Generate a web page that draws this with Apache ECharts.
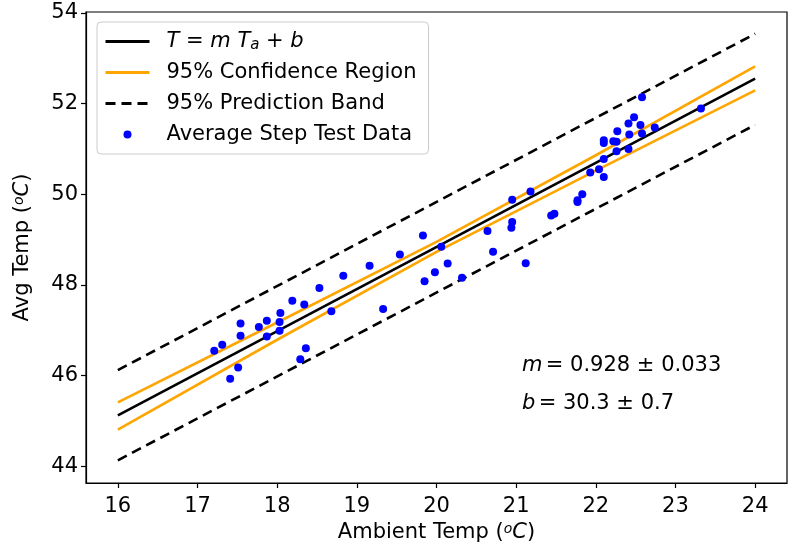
<!DOCTYPE html>
<html>
<head>
<meta charset="utf-8">
<script src="https://cdn.jsdelivr.net/npm/echarts@6/dist/echarts.min.js"></script>
<style>
  html, body { margin: 0; padding: 0; background: #fff; }
  #chart { width: 790px; height: 550px; }
</style>
</head>
<body>
<div id="chart"></div>
<script>
// values
const xTicks = [16, 17, 18, 19, 20, 21, 22, 23, 24];
const yTicks = [44, 46, 48, 50, 52, 54];

const lineX = [16, 24];
const fitY = [45.12, 52.55];
const predUpperY = [46.12, 53.54];
const predLowerY = [44.13, 51.53];

const confX = [16, 18, 20, 22, 24];
const confUpperY = [45.41, 47.17, 48.95, 50.86, 52.82];
const confLowerY = [44.81, 46.79, 48.73, 50.52, 52.29];

const stepX = [
  17.21, 17.31, 17.54, 17.54, 17.51, 17.41, 17.77, 17.87, 17.87, 18.04, 18.03, 18.03, 18.19, 18.34, 18.53, 18.68, 18.36, 18.29,
  18.83, 19.16, 19.54, 19.83, 20.06, 19.85, 19.98, 20.14, 20.32, 19.33, 20.64, 20.71, 20.94, 20.95, 21.12,
  22.58, 20.95, 21.18, 21.44, 21.48, 21.77, 21.77, 21.83, 21.93, 22.04, 22.10, 22.10, 22.10, 22.10, 22.22, 22.26, 22.27,
  22.26, 22.41, 22.42, 22.41, 22.48, 22.56, 22.58, 22.74, 23.32
];
const stepY = [
  46.55, 46.68, 47.15, 46.88, 46.18, 45.93, 47.07, 47.21, 46.86, 47.38, 47.18, 46.99, 47.65, 47.57, 47.93, 47.42, 46.60, 46.36,
  48.20, 48.42, 48.67, 49.09, 48.84, 48.08, 48.28, 48.47, 48.16, 47.47, 49.19, 48.73, 49.26, 49.39, 48.48,
  52.14, 49.88, 50.06, 49.53, 49.57, 49.83, 49.87, 50.00, 50.48, 50.55, 50.38, 50.78, 51.19, 51.13, 51.17, 51.16, 51.39,
  50.95, 51.56, 51.32, 51.00, 51.70, 51.53, 51.34, 51.47, 51.89
];

const zip = (xs, ys) => xs.map((x, i) => [x, ys[i]]);

const FONT = 'DejaVu Sans';
const FS = 21;
const mathRich = {
  it: { fontFamily: FONT, fontSize: FS, fontStyle: 'italic', color: '#000' },
  sub: { fontFamily: FONT, fontSize: 15, fontStyle: 'italic', color: '#000', verticalAlign: 'bottom', padding: [8, 0, 0, 0] },
  sup: { fontFamily: FONT, fontSize: 14, fontStyle: 'italic', color: '#000', verticalAlign: 'top', padding: [0, 0, 8, 0] },
  n: { fontFamily: FONT, fontSize: FS, color: '#000' }
};

const FIT_NAME = 'fit';
const CONF_NAME = '95% Confidence Region';
const PRED_NAME = '95% Prediction Band';
const DATA_NAME = 'Average Step Test Data';

const chart = echarts.init(document.getElementById('chart'), null, { renderer: 'canvas' });

const valueAxisBase = {
  type: 'value',
  splitLine: { show: false },
  axisLine: { show: true, onZero: false, lineStyle: { color: '#000', width: 1.2 } },
  axisTick: { show: true, inside: false, length: 5, lineStyle: { color: '#000', width: 1.2 } },
  axisLabel: { color: '#000', fontFamily: FONT, fontSize: FS }
};

// line entries hide the dot that ECharts adds to line legend icons
const hideDot = { opacity: 0 };

chart.setOption({
  animation: false,
  backgroundColor: '#fff',
  grid: {
    left: 86, right: 3, top: 12, bottom: 67,
    show: true, borderColor: '#000', borderWidth: 1.2,
    containLabel: false, outerBoundsMode: 'none'
  },
  xAxis: {
    ...valueAxisBase,
    min: 15.6,
    max: 24.4,
    axisTick: { ...valueAxisBase.axisTick, customValues: xTicks },
    axisLabel: { ...valueAxisBase.axisLabel, customValues: xTicks, margin: 13 },
    name: '{n|Ambient Temp (}{sup|o}{it|C}{n|)}',
    nameLocation: 'middle',
    nameGap: 36,
    nameTextStyle: { rich: mathRich }
  },
  yAxis: {
    ...valueAxisBase,
    min: 43.63,
    max: 54.02,
    axisTick: { ...valueAxisBase.axisTick, customValues: yTicks },
    axisLabel: { ...valueAxisBase.axisLabel, customValues: yTicks, margin: 8 },
    name: '{n|Avg Temp (}{sup|o}{it|C}{n|)}',
    nameLocation: 'middle',
    nameGap: 52,
    nameRotate: 90,
    nameTextStyle: { rich: mathRich }
  },
  legend: {
    orient: 'vertical',
    left: 97,
    top: 22,
    padding: [8, 12, 8, 7],
    itemWidth: 44,
    itemHeight: 8,
    itemGap: 8,
    backgroundColor: 'rgba(255,255,255,0.8)',
    borderColor: '#cccccc',
    borderWidth: 1,
    borderRadius: 4,
    lineStyle: { width: 3 },
    data: [
      { name: FIT_NAME, itemStyle: hideDot },
      { name: CONF_NAME, itemStyle: hideDot },
      { name: PRED_NAME, itemStyle: hideDot },
      { name: DATA_NAME }
    ],
    formatter: name => (name === FIT_NAME
      ? '{it|T} {n|=} {it|m T}{sub|a} {n|+} {it|b}'
      : '{n|' + name + '}'),
    textStyle: {
      color: '#000',
      fontFamily: FONT,
      fontSize: FS,
      lineHeight: 23,
      padding: [0, 0, 0, 12],
      rich: mathRich
    }
  },
  graphic: [
    {
      type: 'text',
      left: 522,
      top: 355,
      style: {
        text: '{it|m} {n|= 0.928 ± 0.033}',
        rich: mathRich
      }
    },
    {
      type: 'text',
      left: 522,
      top: 393,
      style: {
        text: '{it|b} {n|= 30.3 ± 0.7}',
        rich: mathRich
      }
    }
  ],
  series: [
    {
      name: FIT_NAME,
      type: 'line',
      data: zip(lineX, fitY),
      symbol: 'none',
      z: 4,
      lineStyle: { color: '#000', width: 2.6 },
      itemStyle: { color: '#000' }
    },
    {
      name: CONF_NAME,
      type: 'line',
      data: zip(confX, confUpperY),
      symbol: 'none',
      z: 3,
      lineStyle: { color: '#FFA500', width: 2.6 },
      itemStyle: { color: '#FFA500' }
    },
    {
      name: CONF_NAME,
      type: 'line',
      data: zip(confX, confLowerY),
      symbol: 'none',
      z: 3,
      lineStyle: { color: '#FFA500', width: 2.6 },
      itemStyle: { color: '#FFA500' }
    },
    {
      name: PRED_NAME,
      type: 'line',
      data: zip(lineX, predUpperY),
      symbol: 'none',
      z: 3,
      lineStyle: { color: '#000', width: 2.6, type: [10, 6] },
      itemStyle: { color: '#000' }
    },
    {
      name: PRED_NAME,
      type: 'line',
      data: zip(lineX, predLowerY),
      symbol: 'none',
      z: 3,
      lineStyle: { color: '#000', width: 2.6, type: [10, 6] },
      itemStyle: { color: '#000' }
    },
    {
      name: DATA_NAME,
      type: 'scatter',
      data: zip(stepX, stepY),
      symbol: 'circle',
      symbolSize: 8,
      z: 5,
      itemStyle: { color: '#0000FF', opacity: 1 }
    }
  ]
});
</script>
</body>
</html>
